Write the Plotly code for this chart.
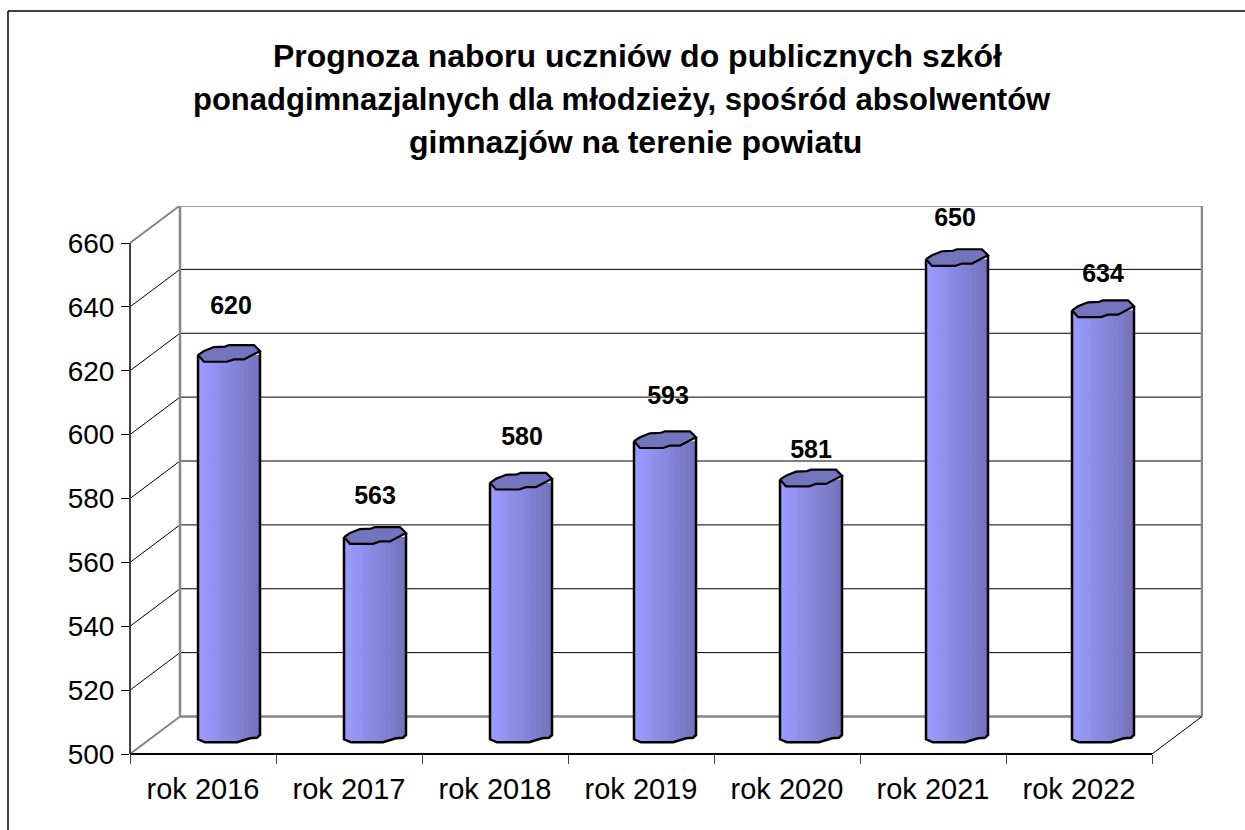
import plotly.graph_objects as go

years = ["rok 2016", "rok 2017", "rok 2018", "rok 2019", "rok 2020", "rok 2021", "rok 2022"]
values = [620, 563, 580, 593, 581, 650, 634]
y_ticks = [500, 520, 540, 560, 580, 600, 620, 640, 660]
title_lines = ["Prognoza naboru uczniów do publicznych szkół",
               "ponadgimnazjalnych dla młodzieży, spośród absolwentów",
               "gimnazjów na terenie powiatu"]
title_centres = [637, 622, 635]
title_rows = [56, 99, 142]
title_sizes = [32, 31, 32]

# label lift/shift relative to the top of the bar, in pixels
label_lift = [63, 55, 60, 59, 44, 55, 50]
label_shift = [28, 26, 27, 27, 24, 22, 24]
bar_nudge = [0, 0, 0, -2, -2, -2, -2]

W, H = 1245, 830
L, R, T, B = 130, 1203, 206, 754      # plot area in page pixels
CAT = 146.0                           # pixels per category
UNIT = (754 - 243) / 160.0            # pixels per value unit
DX, DY = 50, 37.5                     # depth of the 3D box
n = len(years)
xs = list(range(1, n + 1))
BAR_W = 62
BAR_LEFT = 26 - BAR_W / 2             # offset of bar's left edge from category centre


def px_x(p):
    return p / CAT


def px_y(p):
    return p / UNIT


def xp(px):
    return (px - L) / (R - L)


def yp(px):
    return (B - px) / (B - T)


# hand-traced outline of cylinder cap and foot (pixels from left edge, up = negative)
cap = [(0, 0), (6, -4), (16, -8), (27, -8.5), (31, -10), (56, -10), (62, -4),
       (52, 1), (46, 4.3), (36, 4.3), (29, 6.7), (6, 6.7), (0, 0)]
foot = [(0, 0), (7, 3), (39, 3), (52, -1), (59, -1.6), (62, -4.3)]
CAP_LIFT = 15.7
FOOT_LIFT = 14.7


def foot_at(d):
    for (a, b), (c, e) in zip(foot, foot[1:]):
        if a <= d <= c:
            return b + (e - b) * (d - a) / (c - a)
    return foot[-1][1]


def lerp(a, b, t):
    return int(round(a + (b - a) * t))


fig = go.Figure()
STRIPS = 15
light, dark = (155, 155, 255), (116, 116, 188)
sw = BAR_W / STRIPS
for s in range(STRIPS):
    t = s / (STRIPS - 1)
    col = "rgb(%d,%d,%d)" % tuple(lerp(light[k], dark[k], t) for k in range(3))
    mid = (s + 0.5) * sw
    base = 500 + px_y(FOOT_LIFT - foot_at(mid))
    fig.add_trace(go.Bar(
        x=xs,
        y=[v + px_y(CAP_LIFT) - base for v in values],
        base=base,
        width=px_x(sw + 0.6),
        offset=[px_x(BAR_LEFT + s * sw - 0.3 + d) for d in bar_nudge],
        marker=dict(color=col, line=dict(width=0)),
        hoverinfo="skip", showlegend=False,
    ))

line_col = "#000000"
for x, v, d0 in zip(xs, values, bar_nudge):
    x0 = x + px_x(BAR_LEFT + d0)
    # side walls and foot
    ox = [x0, x0] + [x0 + px_x(d) for d, _ in foot] + [x0 + px_x(BAR_W)]
    oy = [v + px_y(CAP_LIFT), 500 + px_y(FOOT_LIFT)] + \
         [500 + px_y(FOOT_LIFT - f) for _, f in foot] + [v + px_y(CAP_LIFT + 4)]
    fig.add_trace(go.Scatter(x=ox, y=oy, mode="lines", line=dict(color=line_col, width=2.5),
                             hoverinfo="skip", showlegend=False))
    # cap
    fig.add_trace(go.Scatter(
        x=[x0 + px_x(d) for d, _ in cap],
        y=[v + px_y(CAP_LIFT - e) for _, e in cap],
        mode="lines", fill="toself", fillcolor="#7373BE",
        line=dict(color=line_col, width=2.2), hoverinfo="skip", showlegend=False))

fig.add_trace(go.Scatter(
    x=[x + px_x(s) for x, s in zip(xs, label_shift)],
    y=[v + px_y(l) for v, l in zip(values, label_lift)],
    text=[str(v) for v in values], mode="text",
    textposition="middle center",
    textfont=dict(family="Liberation Sans", size=25, color="#000000", weight="bold"),
    hoverinfo="skip", showlegend=False))

GRID = "#000000"
WALL = "#868686"
shapes = []
ddx, ddy = px_x(DX), px_y(DY)
xl, xr = 0.5, 0.5 + n
for v in y_ticks:
    edge = v in (500, 660)
    c = WALL if edge else GRID
    w = 2 if edge else 1
    # slanted side-wall line
    shapes.append(dict(type="line", xref="x", yref="y", layer="below",
                       x0=xl, x1=xl + ddx, y0=v, y1=v + ddy, line=dict(color=c, width=w)))
    # back-wall line
    shapes.append(dict(type="line", xref="x", yref="y", layer="below",
                       x0=xl + ddx, x1=xr + ddx, y0=v + ddy, y1=v + ddy,
                       line=dict(color=c, width=2.5 if edge else 1)))
# back wall verticals
for xv in (xl + ddx, xr + ddx):
    shapes.append(dict(type="line", xref="x", yref="y", layer="below",
                       x0=xv, x1=xv, y0=500 + ddy, y1=660 + ddy, line=dict(color=WALL, width=2.5)))
# right floor edge
shapes.append(dict(type="line", xref="x", yref="y", layer="below",
                   x0=xr, x1=xr + ddx, y0=500, y1=500 + ddy, line=dict(color=GRID, width=1)))
# axis lines
shapes.append(dict(type="line", xref="paper", yref="paper", x0=0, x1=xp(L + n * CAT), y0=0, y1=0,
                   line=dict(color="#000000", width=2)))
shapes.append(dict(type="line", xref="paper", yref="paper", x0=0, x1=0, y0=0, y1=yp(243),
                   line=dict(color="#404040", width=2)))
# outer frame
shapes.append(dict(type="line", xref="paper", yref="paper", x0=xp(8), x1=xp(W + 5), y0=yp(11), y1=yp(11),
                   line=dict(color="#000000", width=1.5)))
shapes.append(dict(type="line", xref="paper", yref="paper", x0=xp(8), x1=xp(8), y0=yp(11), y1=yp(H + 5),
                   line=dict(color="#000000", width=1.5)))

annotations = [dict(text=t, xref="paper", yref="paper", x=xp(cx), y=yp(py), showarrow=False,
                    xanchor="center", yanchor="middle",
                    font=dict(family="Liberation Sans", size=sz, color="#000000", weight="bold"))
               for t, cx, py, sz in zip(title_lines, title_centres, title_rows, title_sizes)]

fig.update_layout(
    width=W, height=H, autosize=False,
    margin=dict(l=L, r=W - R, t=T, b=H - B, pad=0),
    paper_bgcolor="white", plot_bgcolor="white",
    barmode="overlay", showlegend=False,
    shapes=shapes, annotations=annotations,
    font=dict(family="Liberation Sans", color="#000000"),
    xaxis=dict(range=[0.5, 0.5 + (R - L) / CAT], tickmode="array", tickvals=xs, ticktext=years,
               ticks="", showgrid=False, zeroline=False, showline=False,
               tickfont=dict(size=29, color="#000000"), ticklabelstandoff=15,
               minor=dict(tickmode="array", tickvals=[xl + i for i in range(n + 1)],
                          ticks="outside", ticklen=9, tickwidth=1, tickcolor="#404040", showgrid=False)),
    yaxis=dict(range=[500, 500 + (B - T) / UNIT], tickmode="array", tickvals=y_ticks,
               ticks="outside", ticklen=8, tickwidth=1, tickcolor="#000000",
               showgrid=False, zeroline=False, showline=False,
               tickfont=dict(size=28, color="#000000"), ticklabelstandoff=1),
)
fig.write_html("out.html", config=dict(displayModeBar=False),
               post_script="document.body.style.margin='0';")
